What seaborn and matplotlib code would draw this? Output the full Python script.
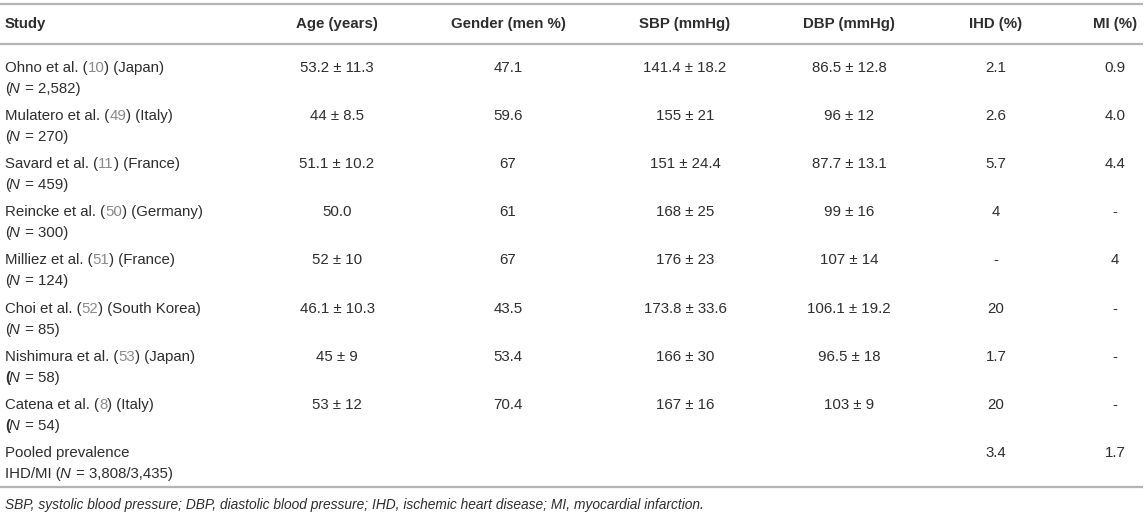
import matplotlib
matplotlib.use("Agg")
import matplotlib.pyplot as plt
import seaborn as sns

# Table content
headers = ["Study", "Age (years)", "Gender (men %)", "SBP (mmHg)", "DBP (mmHg)", "IHD (%)", "MI (%)"]
authors = ["Ohno et al.", "Mulatero et al.", "Savard et al.", "Reincke et al.", "Milliez et al.",
           "Choi et al.", "Nishimura et al.", "Catena et al."]
refs = ["10", "49", "11", "50", "51", "52", "53", "8"]
countries = ["Japan", "Italy", "France", "Germany", "France", "South Korea", "Japan", "Italy"]
sizes = ["2,582", "270", "459", "300", "124", "85", "58", "54"]
bold_paren = [False, False, False, False, False, False, True, True]
age = ["53.2 ± 11.3", "44 ± 8.5", "51.1 ± 10.2", "50.0", "52 ± 10", "46.1 ± 10.3", "45 ± 9", "53 ± 12"]
gender = ["47.1", "59.6", "67", "61", "67", "43.5", "53.4", "70.4"]
sbp = ["141.4 ± 18.2", "155 ± 21", "151 ± 24.4", "168 ± 25", "176 ± 23", "173.8 ± 33.6", "166 ± 30", "167 ± 16"]
dbp = ["86.5 ± 12.8", "96 ± 12", "87.7 ± 13.1", "99 ± 16", "107 ± 14", "106.1 ± 19.2", "96.5 ± 18", "103 ± 9"]
ihd = ["2.1", "2.6", "5.7", "4", "-", "20", "1.7", "20"]
mi = ["0.9", "4.0", "4.4", "-", "4", "-", "-", "-"]
pooled_label = ["Pooled prevalence", "IHD/MI (", "N", " = 3,808/3,435)"]
pooled_ihd = "3.4"
pooled_mi = "1.7"
footnote = ("SBP, systolic blood pressure; DBP, diastolic blood pressure; "
            "IHD, ischemic heart disease; MI, myocardial infarction.")

sns.set_theme(style="white")
plt.rcParams["font.family"] = ["Liberation Sans", "DejaVu Sans"]

TEXT = "#2e2e2e"
REF = "#8a8a8a"
RULE = "#b4b4b4"
FS = 10.8

fig = plt.figure(figsize=(11.45, 5.21), dpi=100)
ax = fig.add_axes([0, 0, 1, 1])
ax.set_xlim(0, 1145)
ax.set_ylim(521, 0)
ax.axis("off")

renderer = fig.canvas.get_renderer()


def text_width(s):
    t = ax.text(0, 0, s, fontsize=FS)
    w = t.get_window_extent(renderer=renderer).width
    t.remove()
    return w


def draw_runs(x, y, runs):
    # runs: list of (text, color, style, weight); offsets from plain prefix widths
    prefix = ""
    for s, color, style, weight in runs:
        dx = text_width(prefix) if prefix else 0
        if style == "italic":
            dx -= 1.5
        ax.text(x + dx, y, s, color=color, style=style, weight=weight, fontsize=FS,
                ha="left", va="center")
        prefix += s


col_x = [5, 337, 508, 685, 849, 996, 1115]
row_y = [68, 116, 164, 212, 260, 309, 357, 405]
line_gap = 21

# rules
for yy in [4, 44, 487]:
    ax.plot([0, 1143], [yy, yy], color=RULE, lw=1.6, solid_capstyle="butt")

# header
header_y = 24
for i, h in enumerate(headers):
    ax.text(col_x[i], header_y, h, fontsize=FS, weight="bold", color=TEXT,
            ha="left" if i == 0 else "center", va="center")

# body rows
for r in range(len(authors)):
    y = row_y[r]
    draw_runs(col_x[0], y, [
        (authors[r] + " (", TEXT, "normal", "normal"),
        (refs[r], REF, "normal", "normal"),
        (") (" + countries[r] + ")", TEXT, "normal", "normal"),
    ])
    draw_runs(col_x[0], y + line_gap, [
        ("(", TEXT, "normal", "bold" if bold_paren[r] else "normal"),
        ("N", TEXT, "italic", "normal"),
        (" = " + sizes[r] + ")", TEXT, "normal", "normal"),
    ])
    for c, vals in enumerate([age, gender, sbp, dbp, ihd, mi], start=1):
        ax.text(col_x[c], y, vals[r], fontsize=FS, color=TEXT, ha="center", va="center")

# pooled row
py = 453
ax.text(col_x[0], py, pooled_label[0], fontsize=FS, color=TEXT, ha="left", va="center")
draw_runs(col_x[0], py + line_gap, [
    (pooled_label[1], TEXT, "normal", "normal"),
    (pooled_label[2], TEXT, "italic", "normal"),
    (pooled_label[3], TEXT, "normal", "normal"),
])
ax.text(col_x[5], py, pooled_ihd, fontsize=FS, color=TEXT, ha="center", va="center")
ax.text(col_x[6], py, pooled_mi, fontsize=FS, color=TEXT, ha="center", va="center")

# footnote
ax.text(col_x[0], 505, footnote, fontsize=9.9, style="italic", color=TEXT, ha="left", va="center")

fig.savefig("out.png", dpi=100)
